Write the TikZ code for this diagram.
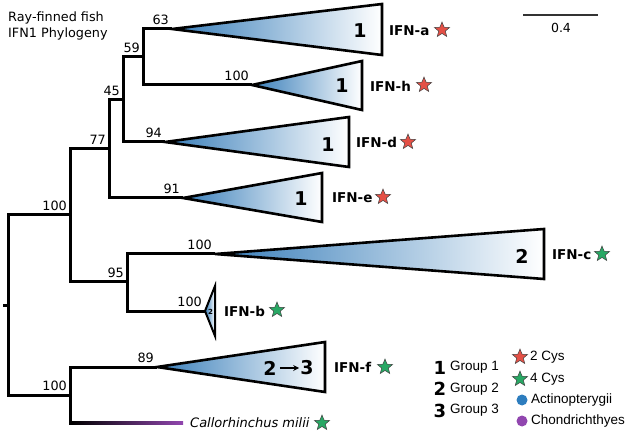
\documentclass[tikz,border=0pt]{standalone}
\usepackage{fontspec}
\setmainfont{DejaVu Sans}
\newfontfamily\legfont{Liberation Sans}
\usetikzlibrary{shapes.geometric,arrows.meta,calc}
\definecolor{tipblue}{RGB}{55,125,185}
\definecolor{starred}{RGB}{228,80,70}
\definecolor{stargreen}{RGB}{40,168,100}
\definecolor{actblue}{RGB}{45,125,190}
\definecolor{chpurple}{RGB}{145,70,175}
\begin{document}
\begin{tikzpicture}[x=1pt,y=-1pt,
  branch/.style={line width=3pt, line join=miter},
  clade/.style={draw, line width=2.6pt, left color=tipblue, right color=white, line join=miter},
  bs/.style={font=\fontsize{12.8}{14}\selectfont, inner sep=0pt, anchor=south east, xshift=-3pt, yshift=4pt},
  grp/.style={font=\fontsize{19}{20}\selectfont\bfseries, inner sep=0pt},
  ifn/.style={font=\fontsize{13.5}{15}\selectfont\bfseries, inner sep=0pt, anchor=west},
  cys/.style={star, star points=5, star point ratio=2.3, minimum size=16pt, inner sep=0pt, draw=black!75, line width=0.5pt},
  legtxt/.style={font=\legfont\fontsize{13.5}{15}\selectfont, inner sep=0pt, anchor=west},
  legnum/.style={font=\fontsize{18}{20}\selectfont\bfseries, inner sep=0pt},
]
\useasboundingbox (0,0) rectangle (630,433);

% title
\node[anchor=west, align=left, font=\fontsize{12.8}{16}\selectfont, inner sep=0pt] (title) at (8,26) {Ray-finned fish\\IFN1 Phylogeny};

% scale bar
\coordinate (sbL) at (523,15);
\coordinate (sbR) at (598,15);
\draw[line width=1.2pt, black!80] (sbL) -- (sbR);
\node[font=\fontsize{12.5}{14}\selectfont, inner sep=0pt] (sbt) at (561,28) {0.4};

% tree coordinates
\coordinate (stub) at (3,305);
\coordinate (root) at (8,305);
\coordinate (u100) at (70,215);
\coordinate (c77) at (109,149);
\coordinate (c45) at (123,100);
\coordinate (c59) at (143,57);
\coordinate (ta) at (172,29);
\coordinate (th) at (252,85);
\coordinate (td) at (165,142);
\coordinate (te) at (183,198);
\coordinate (c95) at (127,282);
\coordinate (tc) at (215,254);
\coordinate (tb) at (205,311);
\coordinate (l100) at (70,395);
\coordinate (tf) at (157,367);
\coordinate (cmA) at (73,423);
\coordinate (cmB) at (183,423);

% clade triangles
\path[clade] (ta) -- (382,4) -- (382,55) -- cycle;
\path[clade] (th) -- (362,61) -- (362,110) -- cycle;
\path[clade] (td) -- (349,117) -- (349,167) -- cycle;
\path[clade] (te) -- (322,173) -- (322,222) -- cycle;
\path[clade] (tc) -- (544,229) -- (544,279) -- cycle;
\path[clade, line width=2pt] (tb) -- (215,286) -- (215,336) -- cycle;
\path[clade] (tf) -- (325,342) -- (325,392) -- cycle;

% branches
\draw[branch] (stub) -- (root);
\draw[branch] (root) |- (u100);
\draw[branch] (root) |- (l100);
\draw[branch] (u100) |- (c77);
\draw[branch] (u100) |- (c95);
\draw[branch] (c77) |- (c45);
\draw[branch] (c77) |- (te);
\draw[branch] (c45) |- (c59);
\draw[branch] (c45) |- (td);
\draw[branch] (c59) |- (ta);
\draw[branch] (c59) |- (th);
\draw[branch] (c95) |- (tc);
\draw[branch] (c95) |- (tb);
\draw[branch] (l100) |- (tf);
\draw[branch] (l100) |- (cmA);
\shade[left color=black, right color=chpurple] ($(cmA)+(-1,-1.5)$) rectangle ($(cmB)+(0,1.5)$);

% bootstrap values
\node[bs] at (u100) {100};
\node[bs] at (c77) {77};
\node[bs] at (c45) {45};
\node[bs] at (c59) {59};
\node[bs] at (ta) {63};
\node[bs] at (th) {100};
\node[bs] at (td) {94};
\node[bs] at (te) {91};
\node[bs] at (c95) {95};
\node[bs] at (tc) {100};
\node[bs] at (tb) {100};
\node[bs] at (l100) {100};
\node[bs] at (tf) {89};

% group numbers in triangles
\node[grp] (ga) at (360,31) {1};
\node[grp] (gh) at (342,86) {1};
\node[grp] (gd) at (328,145) {1};
\node[grp] (ge) at (301,199) {1};
\node[grp] (gc) at (522,256) {2};
\node[font=\fontsize{7}{8}\selectfont\bfseries, inner sep=0pt] (gb) at (210.5,312) {2};
\node[grp] (gf2) at (270,368) {2};
\node[grp] (gf3) at (307,368) {3};
\draw[-{Stealth[length=6pt,width=6pt]}, line width=1.2pt, shorten <=3pt, shorten >=1pt] (gf2) -- (gf3);

% IFN labels and stars
\node[ifn] (la) at (389,31) {IFN-a};
\node[cys, fill=starred] (sa) at (442,30) {};
\node[ifn] (lh) at (370,86) {IFN-h};
\node[cys, fill=starred] (sh) at (424,85) {};
\node[ifn] (ld) at (356,142) {IFN-d};
\node[cys, fill=starred] (sd) at (408,142) {};
\node[ifn] (le) at (332,198) {IFN-e};
\node[cys, fill=starred] (se) at (383,197) {};
\node[ifn] (lc) at (552,255) {IFN-c};
\node[cys, fill=stargreen] (sc) at (602,254) {};
\node[ifn] (lb) at (224,311) {IFN-b};
\node[cys, fill=stargreen] (sb) at (277,310) {};
\node[ifn] (lf) at (334,367) {IFN-f};
\node[cys, fill=stargreen] (sf) at (385,367) {};
\node[font=\fontsize{13}{15}\selectfont\itshape, inner sep=0pt, anchor=west] (lcm) at (190,423) {Callorhinchus milii};
\node[cys, fill=stargreen] (scm) at (322,423) {};

% legend
\node[legnum] (n1) at (440,368) {1};
\node[legtxt] (g1) at (450,367) {Group 1};
\node[legnum] (n2) at (440,389) {2};
\node[legtxt] (g2) at (450,389) {Group 2};
\node[legnum] (n3) at (440,411) {3};
\node[legtxt] (g3) at (450,410) {Group 3};
\node[cys, fill=starred] (ls1) at (520,357) {};
\node[legtxt] (lt1) at (530,357) {2 Cys};
\node[cys, fill=stargreen] (ls2) at (520,379) {};
\node[legtxt] (lt2) at (530,379) {4 Cys};
\node[circle, fill=actblue, minimum size=11pt, inner sep=0pt] (lc1) at (522,400) {};
\node[legtxt] (lt3) at (531,400) {Actinopterygii};
\node[circle, fill=chpurple, minimum size=11pt, inner sep=0pt] (lc2) at (522,421) {};
\node[legtxt] (lt4) at (531,421) {Chondrichthyes};
\end{tikzpicture}
\end{document}
